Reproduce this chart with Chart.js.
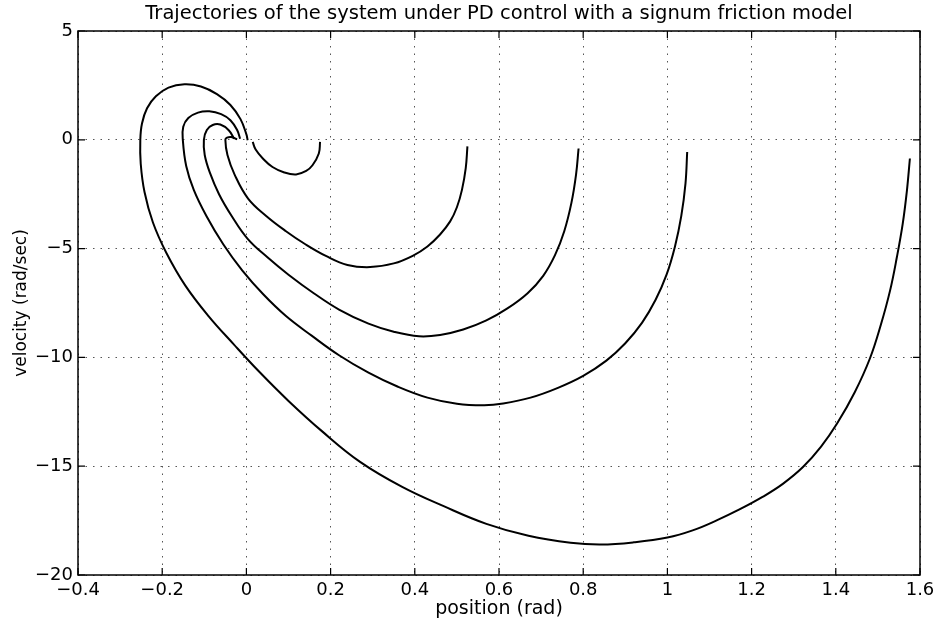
<!DOCTYPE html>
<html>
<head>
<meta charset="utf-8">
<script src="https://cdn.jsdelivr.net/npm/chart.js@4.4.0/dist/chart.umd.min.js"></script>
<style>
  html, body { margin: 0; padding: 0; background: #fff; }
  #wrap { width: 941px; height: 626px; }
</style>
</head>
<body>
<div id="wrap"><canvas id="myChart" width="941" height="626"></canvas></div>
<script>
// trajectories (position in rad, velocity in rad/sec)
const posA = [0.175, 0.172, 0.157, 0.142, 0.118, 0.09, 0.062, 0.039, 0.022, 0.015];
const velA = [-0.1, -0.63, -1.17, -1.43, -1.59, -1.5, -1.25, -0.86, -0.45, -0.1];

const posB = [0.525, 0.521, 0.512, 0.5, 0.484, 0.46, 0.43, 0.395, 0.35, 0.294, 0.24, 0.19, 0.14, 0.094, 0.047, 0.004, -0.028, -0.045, -0.05, -0.046, -0.036, -0.022];
const velB = [-0.3, -1.3, -2.3, -3.1, -3.75, -4.35, -4.9, -5.33, -5.68, -5.85, -5.75, -5.35, -4.8, -4.2, -3.5, -2.7, -1.6, -0.7, 0, 0.1, 0.13, 0.02];

const posC = [0.789, 0.783, 0.772, 0.755, 0.733, 0.705, 0.668, 0.62, 0.57, 0.515, 0.46, 0.41, 0.35, 0.29, 0.22, 0.16, 0.1, 0.05, 0.003, -0.035, -0.065, -0.087, -0.099, -0.101, -0.094, -0.08, -0.062, -0.042, -0.029];
const velC = [-0.4, -1.6, -2.9, -4.2, -5.3, -6.25, -7.05, -7.75, -8.3, -8.72, -8.97, -9.03, -8.82, -8.45, -7.8, -7.05, -6.2, -5.4, -4.55, -3.5, -2.5, -1.5, -0.7, 0, 0.45, 0.68, 0.7, 0.44, 0.05];

const posD = [1.047, 1.043, 1.033, 1.018, 0.998, 0.972, 0.94, 0.9, 0.855, 0.8, 0.74, 0.675, 0.61, 0.565, 0.5, 0.43, 0.36, 0.29, 0.22, 0.155, 0.094, 0.04, -0.01, -0.055, -0.095, -0.125, -0.143, -0.151, -0.15, -0.138, -0.115, -0.088, -0.06, -0.038, -0.022, -0.015];
const velD = [-0.56, -2.0, -3.5, -4.9, -6.2, -7.35, -8.4, -9.35, -10.15, -10.85, -11.4, -11.85, -12.12, -12.2, -12.13, -11.85, -11.35, -10.7, -9.9, -9.0, -8.1, -7.1, -6.0, -4.8, -3.5, -2.3, -1.2, 0, 0.6, 1.0, 1.25, 1.31, 1.18, 0.9, 0.45, 0.05];

const posE = [1.576, 1.569, 1.559, 1.545, 1.529, 1.507, 1.481, 1.445, 1.403, 1.365, 1.322, 1.275, 1.227, 1.17, 1.117, 1.06, 1.0, 0.92, 0.842, 0.77, 0.67, 0.57, 0.47, 0.37, 0.27, 0.18, 0.1, 0.03, -0.03, -0.09, -0.145, -0.19, -0.222, -0.242, -0.251, -0.252, -0.248, -0.236, -0.215, -0.185, -0.147, -0.108, -0.07, -0.038, -0.014, 0.0, 0.003];
const velE = [-0.86, -2.32, -3.85, -5.4, -6.92, -8.5, -10.05, -11.6, -13.04, -14.1, -15.04, -15.8, -16.4, -17.0, -17.49, -17.95, -18.28, -18.5, -18.6, -18.52, -18.2, -17.65, -16.85, -15.95, -14.8, -13.4, -12.0, -10.65, -9.4, -8.1, -6.7, -5.2, -3.8, -2.4, -1.1, 0, 0.75, 1.45, 2.0, 2.4, 2.55, 2.45, 2.1, 1.6, 0.95, 0.25, -0.02];

const xTicks = [-0.4, -0.2, 0, 0.2, 0.4, 0.6, 0.8, 1, 1.2, 1.4, 1.6];
const yTicks = [5, 0, -5, -10, -15, -20];

const font = '"DejaVu Sans", Arial, Helvetica, sans-serif';

function toPoints(xs, ys) {
  return xs.map((x, i) => ({ x: x, y: ys[i] }));
}

function lineSet(xs, ys) {
  return {
    data: toPoints(xs, ys),
    showLine: true,
    borderColor: '#000',
    borderWidth: 2,
    pointRadius: 0,
    tension: 0.4,
    fill: false
  };
}

function fmt(v) {
  const r = Number(v.toFixed(1));
  return r < 0 ? '\u2212' + String(-r) : String(r);
}

// MATLAB style box with inward ticks
const boxPlugin = {
  id: 'box',
  afterDatasetsDraw(chart) {
    const { ctx, chartArea: a, scales } = chart;
    ctx.save();
    ctx.strokeStyle = '#000';
    ctx.lineWidth = 1.5;
    ctx.strokeRect(a.left, a.top, a.right - a.left, a.bottom - a.top);
    ctx.lineWidth = 1.2;
    ctx.beginPath();
    xTicks.forEach(v => {
      const px = scales.x.getPixelForValue(v);
      ctx.moveTo(px, a.bottom); ctx.lineTo(px, a.bottom - 7);
      ctx.moveTo(px, a.top); ctx.lineTo(px, a.top + 7);
    });
    yTicks.forEach(v => {
      const py = scales.y.getPixelForValue(v);
      ctx.moveTo(a.left, py); ctx.lineTo(a.left + 7, py);
      ctx.moveTo(a.right, py); ctx.lineTo(a.right - 7, py);
    });
    ctx.stroke();
    ctx.restore();
  }
};

const config = {
  type: 'scatter',
  data: {
    datasets: [
      lineSet(posA, velA),
      lineSet(posB, velB),
      lineSet(posC, velC),
      lineSet(posD, velD),
      lineSet(posE, velE)
    ]
  },
  options: {
    responsive: false,
    animation: false,
    layout: { padding: { left: 0, right: 21, top: 0, bottom: 0 } },
    plugins: {
      legend: { display: false },
      tooltip: { enabled: false },
      title: {
        display: true,
        fullSize: false,
        text: 'Trajectories of the system under PD control with a signum friction model',
        color: '#000',
        font: { family: font, size: 19.5, weight: 'normal' },
        padding: { top: 2, bottom: 5.6 }
      }
    },
    scales: {
      x: {
        type: 'linear',
        min: -0.4,
        max: 1.6,
        afterBuildTicks(scale) { scale.ticks = xTicks.map(v => ({ value: v })); },
        afterFit(scale) { scale.height = 51; },
        border: { display: false, dash: [1.5, 6] },
        grid: {
          color: '#555',
          lineWidth: 1,
          drawTicks: false
        },
        ticks: {
          color: '#000',
          padding: 5,
          maxRotation: 0,
          font: { family: font, size: 18 },
          callback: v => fmt(v)
        },
        title: {
          display: true,
          text: 'position (rad)',
          color: '#000',
          font: { family: font, size: 19 },
          padding: { top: 0, bottom: 6 }
        }
      },
      y: {
        type: 'linear',
        min: -20,
        max: 5,
        afterBuildTicks(scale) { scale.ticks = yTicks.map(v => ({ value: v })); },
        afterFit(scale) { scale.width = 78; },
        border: { display: false, dash: [1.5, 6] },
        grid: {
          color: '#555',
          lineWidth: 1,
          drawTicks: false
        },
        ticks: {
          color: '#000',
          padding: 5,
          font: { family: font, size: 18 },
          callback: v => fmt(v)
        },
        title: {
          display: true,
          text: 'velocity (rad/sec)',
          color: '#000',
          font: { family: font, size: 17 },
          padding: { top: 11, bottom: 0 }
        }
      }
    }
  },
  plugins: [boxPlugin]
};

var myChart = new Chart(document.getElementById('myChart'), config);
</script>
</body>
</html>
